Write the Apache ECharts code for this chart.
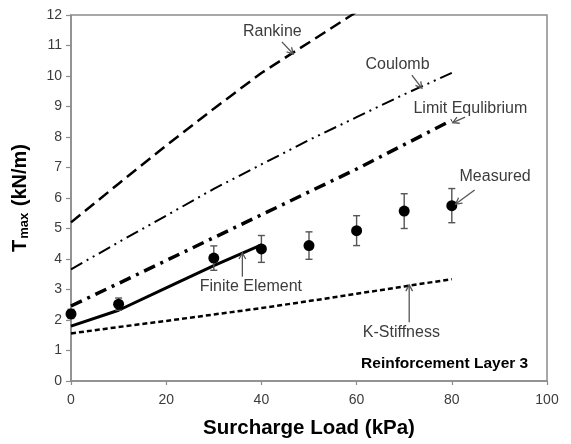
<!DOCTYPE html>
<html>
<head>
<meta charset="utf-8">
<style>
  html, body { margin: 0; padding: 0; background: #fff; }
  #chart { width: 571px; height: 444px; }
</style>
<script src="https://cdn.jsdelivr.net/npm/echarts@6/dist/echarts.min.js"></script>
</head>
<body>
<div id="chart"></div>
<script>
// Surcharge load steps (kPa)
const loads = [0, 10, 20, 30, 40, 50, 60, 70, 80];

// Predicted Tmax (kN/m) for each method
const rankine   = [5.2, 6.47, 7.72, 8.93, 10.1, 11.1, 12.1, 13.1, 14.0];
const coulomb   = [3.66, 4.55, 5.42, 6.3, 7.1, 7.9, 8.65, 9.4, 10.1];
const limitEq   = [2.46, 3.2, 3.95, 4.7, 5.45, 6.2, 6.95, 7.75, 8.55];
const kStiff    = [1.56, 1.77, 1.97, 2.18, 2.39, 2.62, 2.86, 3.1, 3.34];
const feLoads   = [0, 10, 20, 30, 40];
const finiteEl  = [1.8, 2.32, 3.05, 3.78, 4.46];

// Measured Tmax with scatter (± kN/m)
const measLoads = [0, 10, 30, 40, 50, 60, 70, 80];
const measured  = [2.2, 2.52, 4.03, 4.33, 4.44, 4.93, 5.57, 5.75];
const measErr   = [0.15, 0.2, 0.4, 0.44, 0.45, 0.49, 0.57, 0.56];

// Callout labels: text centre and arrow tail/head, all in data units
const calloutText  = ['Rankine', 'Coulomb', 'Limit Equlibrium', 'Measured', 'Finite Element', 'K-Stiffness'];
const calloutPos   = [[42.3, 11.44], [68.6, 10.36], [83.9, 8.94], [89.1, 6.70], [37.8, 3.11], [69.4, 1.60]];
const arrowTail    = [[44.3, 11.12], [71.6, 10.03], [82.8, 8.65], [84.8, 6.26], [36.0, 3.42], [71.05, 1.93]];
const arrowHead    = [[46.7, 10.72], [73.7, 9.60], [80.2, 8.47], [80.8, 5.80], [36.0, 4.20], [71.05, 3.15]];

const panelTitle = 'Reinforcement Layer 3';
const panelPos = [78.5, 0.56];

const xTicks = { min: 0, max: 100, interval: 20 };
const yTicks = { min: 0, max: 12, interval: 1 };

const pairs = (xs, ys) => xs.map((x, i) => [x, ys[i]]);

const FONT = '"Liberation Sans", Arial, Helvetica, sans-serif';
const AXIS_GREY = '#8c8c8c';
const TEXT_GREY = '#3c3c3c';

function lineSeries(name, xs, ys, width, type) {
  return {
    name: name,
    type: 'line',
    data: pairs(xs, ys),
    showSymbol: false,
    symbol: 'none',
    clip: true,
    lineStyle: { color: '#000', width: width, type: type, cap: 'butt' },
    z: 3
  };
}

const chart = echarts.init(document.getElementById('chart'), null, { renderer: 'canvas' });

chart.setOption({
  animation: false,
  backgroundColor: '#fff',
  grid: {
    left: 71, right: 24, top: 15, bottom: 63,
    show: true, borderColor: AXIS_GREY, borderWidth: 1.5,
    outerBoundsMode: 'none'
  },
  xAxis: {
    type: 'value',
    min: xTicks.min, max: xTicks.max, interval: xTicks.interval,
    axisLine: { show: true, lineStyle: { color: AXIS_GREY, width: 1.5 } },
    axisTick: { show: true, length: 4, lineStyle: { color: AXIS_GREY, width: 1.2 } },
    axisLabel: { fontSize: 14, color: TEXT_GREY, fontFamily: FONT, margin: 12 },
    splitLine: { show: false },
    name: 'Surcharge Load (kPa)',
    nameLocation: 'middle',
    nameGap: 37,
    nameTextStyle: { fontSize: 20.5, fontWeight: 'bold', color: '#000', fontFamily: FONT }
  },
  yAxis: {
    type: 'value',
    min: yTicks.min, max: yTicks.max, interval: yTicks.interval,
    axisLine: { show: true, lineStyle: { color: AXIS_GREY, width: 1.5 } },
    axisTick: { show: true, length: 5, lineStyle: { color: AXIS_GREY, width: 1.2 } },
    axisLabel: { fontSize: 14, color: TEXT_GREY, fontFamily: FONT, margin: 9 },
    splitLine: { show: false },
    name: '{t|T}{s|max}{t| (kN/m)}',
    nameLocation: 'middle',
    nameGap: 40,
    nameTextStyle: {
      rich: {
        t: { fontSize: 20, fontWeight: 'bold', color: '#000', fontFamily: FONT, lineHeight: 22, verticalAlign: 'middle' },
        s: { fontSize: 13, fontWeight: 'bold', color: '#000', fontFamily: FONT, lineHeight: 22, verticalAlign: 'bottom', padding: [8, 1, 0, 1] }
      }
    }
  },
  series: [
    lineSeries('Rankine', loads, rankine, 2.5, [12, 6]),
    lineSeries('Coulomb', loads, coulomb, 2, [13, 5, 2, 5, 2, 5]),
    lineSeries('Limit Equlibrium', loads, limitEq, 3.5, [12, 6, 3, 6]),
    lineSeries('K-Stiffness', loads, kStiff, 2.5, [5, 3]),
    lineSeries('Finite Element', feLoads, finiteEl, 3, 'solid'),
    {
      name: 'Measured range',
      type: 'custom',
      data: measLoads.map((x, i) => [x, measured[i] - measErr[i], measured[i] + measErr[i]]),
      encode: { x: 0, y: [1, 2] },
      z: 4,
      renderItem: function (params, api) {
        const lo = api.coord([api.value(0), api.value(1)]);
        const hi = api.coord([api.value(0), api.value(2)]);
        const cap = 3.5;
        const st = { stroke: '#555', lineWidth: 1.4 };
        return {
          type: 'group',
          children: [
            { type: 'line', shape: { x1: lo[0], y1: lo[1], x2: hi[0], y2: hi[1] }, style: st },
            { type: 'line', shape: { x1: lo[0] - cap, y1: lo[1], x2: lo[0] + cap, y2: lo[1] }, style: st },
            { type: 'line', shape: { x1: hi[0] - cap, y1: hi[1], x2: hi[0] + cap, y2: hi[1] }, style: st }
          ]
        };
      }
    },
    {
      name: 'Measured',
      type: 'scatter',
      data: pairs(measLoads, measured),
      symbol: 'circle',
      symbolSize: 11,
      itemStyle: { color: '#000', opacity: 1 },
      z: 5
    },
    {
      name: 'Callouts',
      type: 'custom',
      clip: false,
      silent: true,
      z: 6,
      data: calloutPos.map((p, i) => [p[0], p[1], arrowTail[i][0], arrowTail[i][1], arrowHead[i][0], arrowHead[i][1]]),
      encode: { x: [0, 2, 4], y: [1, 3, 5] },
      renderItem: function (params, api) {
        const i = params.dataIndex;
        const t = api.coord([api.value(0), api.value(1)]);
        const a = api.coord([api.value(2), api.value(3)]);
        const b = api.coord([api.value(4), api.value(5)]);
        const ang = Math.atan2(b[1] - a[1], b[0] - a[0]);
        const len = 7, spread = 0.5;
        const p1 = [b[0] - len * Math.cos(ang - spread), b[1] - len * Math.sin(ang - spread)];
        const p2 = [b[0] - len * Math.cos(ang + spread), b[1] - len * Math.sin(ang + spread)];
        const st = { stroke: '#555', lineWidth: 1.3, fill: null };
        return {
          type: 'group',
          children: [
            {
              type: 'text',
              style: {
                text: calloutText[i], x: t[0], y: t[1],
                align: 'center', verticalAlign: 'middle',
                fill: TEXT_GREY, font: '16px ' + FONT
              }
            },
            { type: 'line', shape: { x1: a[0], y1: a[1], x2: b[0], y2: b[1] }, style: st },
            { type: 'polyline', shape: { points: [p1, b, p2] }, style: st }
          ]
        };
      }
    },
    {
      name: 'Panel',
      type: 'custom',
      clip: false,
      silent: true,
      z: 6,
      data: [panelPos],
      renderItem: function (params, api) {
        const p = api.coord([api.value(0), api.value(1)]);
        return {
          type: 'text',
          style: {
            text: panelTitle, x: p[0], y: p[1],
            align: 'center', verticalAlign: 'middle',
            fill: '#000', font: 'bold 15.5px ' + FONT
          }
        };
      }
    }
  ]
});
</script>
</body>
</html>
